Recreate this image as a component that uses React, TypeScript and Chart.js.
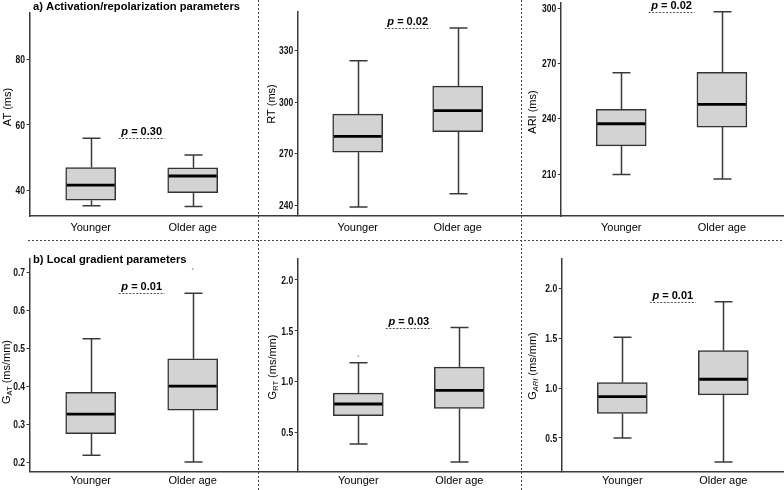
import React, { useEffect, useRef } from 'react';
import { Chart, registerables } from 'chart.js';

Chart.register(...registerables);

// ---------- data ----------
const CATEGORIES = ['Younger', 'Older age'];

// a) AT (ms)
const AT_MIN = [35.3, 35.1];
const AT_Q1 = [37.0, 39.3];
const AT_MEDIAN = [41.6, 44.4];
const AT_Q3 = [47.0, 46.9];
const AT_MAX = [55.9, 50.8];
const AT_TICKS = [40, 60, 80];
const AT_P = '0.30';

// RT (ms)
const RT_MIN = [238.8, 246.6];
const RT_Q1 = [270.8, 282.8];
const RT_MEDIAN = [280.1, 295.1];
const RT_Q3 = [293.0, 309.4];
const RT_MAX = [324.2, 343.3];
const RT_TICKS = [240, 270, 300, 330];
const RT_P = '0.02';

// ARI (ms)
const ARI_MIN = [209.8, 207.3];
const ARI_Q1 = [225.3, 235.5];
const ARI_MEDIAN = [237.3, 247.8];
const ARI_Q3 = [245.1, 265.2];
const ARI_MAX = [265.0, 298.2];
const ARI_TICKS = [210, 240, 270, 300];
const ARI_P = '0.02';

// b) G_AT (ms/mm)
const GAT_MIN = [0.218, 0.2];
const GAT_Q1 = [0.275, 0.337];
const GAT_MEDIAN = [0.326, 0.4];
const GAT_Q3 = [0.384, 0.472];
const GAT_MAX = [0.525, 0.645];
const GAT_OUTLIERS = [[], [0.709]];
const GAT_TICKS = [0.2, 0.3, 0.4, 0.5, 0.6, 0.7];
const GAT_P = '0.01';

// G_RT (ms/mm)
const GRT_MIN = [0.389, 0.212];
const GRT_Q1 = [0.667, 0.738];
const GRT_MEDIAN = [0.782, 0.915];
const GRT_Q3 = [0.889, 1.144];
const GRT_MAX = [1.187, 1.533];
const GRT_OUTLIERS = [[1.25], []];
const GRT_TICKS = [0.5, 1.0, 1.5, 2.0];
const GRT_P = '0.03';

// G_ARI (ms/mm)
const GARI_MIN = [0.5, 0.259];
const GARI_Q1 = [0.746, 0.933];
const GARI_MEDIAN = [0.916, 1.09];
const GARI_Q3 = [1.057, 1.378];
const GARI_MAX = [1.513, 1.868];
const GARI_TICKS = [0.5, 1.0, 1.5, 2.0];
const GARI_P = '0.01';

// ---------- styles ----------
const FONT = "'Liberation Sans', Arial, Helvetica, sans-serif";
const AXIS = '#3a3a3a';

type PanelDef = {
  left: number; top: number; width: number; height: number;
  areaLeft: number; areaTop: number; areaBottom: number; unitPx: number;
  yMin: number; yMax: number; decimals: number;
  mins: number[]; q1: number[]; med: number[]; q3: number[]; maxs: number[];
  outliers: number[][]; ticks: number[]; p: string;
  tMain: string; tSub: string; tRest: string; tX: number; tY: number; tSubItalic?: boolean;
  section?: { text: string; x: number; y: number };
  labelPad: number;
};

const PANELS: PanelDef[] = [
  { left: 0, top: 0, width: 298, height: 240, areaLeft: 29.5, areaTop: 13, areaBottom: 216, unitPx: 102,
    yMin: 32.2, yMax: 94.1, decimals: 0, mins: AT_MIN, q1: AT_Q1, med: AT_MEDIAN, q3: AT_Q3, maxs: AT_MAX,
    outliers: [[], []], ticks: AT_TICKS, p: AT_P, tMain: 'AT (ms)', tSub: '', tRest: '', tX: 7.5, tY: 107,
    section: { text: 'a) Activation/repolarization parameters', x: 33, y: 9.5 }, labelPad: 5.5 },
  { left: 260, top: 0, width: 301, height: 240, areaLeft: 37.7, areaTop: 12, areaBottom: 215.5, unitPx: 100,
    yMin: 233.9, yMax: 352.6, decimals: 0, mins: RT_MIN, q1: RT_Q1, med: RT_MEDIAN, q3: RT_Q3, maxs: RT_MAX,
    outliers: [[], []], ticks: RT_TICKS, p: RT_P, tMain: 'RT (ms)', tSub: '', tRest: '', tX: 11.7, tY: 104, labelPad: 6 },
  { left: 522, top: 0, width: 262, height: 240, areaLeft: 38.8, areaTop: 3, areaBottom: 216, unitPx: 100.7,
    yMin: 187.2, yMax: 302.9, decimals: 0, mins: ARI_MIN, q1: ARI_Q1, med: ARI_MEDIAN, q3: ARI_Q3, maxs: ARI_MAX,
    outliers: [[], []], ticks: ARI_TICKS, p: ARI_P, tMain: 'ARI (ms)', tSub: '', tRest: '', tX: 11.3, tY: 112, labelPad: 5.5 },
  { left: 0, top: 240, width: 298, height: 250, areaLeft: 29.5, areaTop: 18.3, areaBottom: 231.7, unitPx: 102,
    yMin: 0.1745, yMax: 0.737, decimals: 1, mins: GAT_MIN, q1: GAT_Q1, med: GAT_MEDIAN, q3: GAT_Q3, maxs: GAT_MAX,
    outliers: GAT_OUTLIERS, ticks: GAT_TICKS, p: GAT_P, tMain: 'G', tSub: 'AT', tRest: ' (ms/mm)', tX: 7, tY: 132,
    section: { text: 'b) Local gradient parameters', x: 33, y: 22.5 }, labelPad: 3 },
  { left: 260, top: 240, width: 302, height: 250, areaLeft: 37.7, areaTop: 18.3, areaBottom: 231.7, unitPx: 101,
    yMin: 0.117, yMax: 2.213, decimals: 1, mins: GRT_MIN, q1: GRT_Q1, med: GRT_MEDIAN, q3: GRT_Q3, maxs: GRT_MAX,
    outliers: GRT_OUTLIERS, ticks: GRT_TICKS, p: GRT_P, tMain: 'G', tSub: 'RT', tRest: ' (ms/mm)', tX: 13.3, tY: 127, labelPad: 3 },
  { left: 522, top: 240, width: 262, height: 250, areaLeft: 39.7, areaTop: 18.3, areaBottom: 231.7, unitPx: 101,
    yMin: 0.161, yMax: 2.305, decimals: 1, mins: GARI_MIN, q1: GARI_Q1, med: GARI_MEDIAN, q3: GARI_Q3, maxs: GARI_MAX,
    outliers: [[], []], ticks: GARI_TICKS, p: GARI_P, tMain: 'G', tSub: 'ARI', tRest: ' (ms/mm)', tX: 11.3, tY: 126, tSubItalic: true, labelPad: 3 },
];

const boxPlugin = {
  id: 'boxExtras',
  afterDatasetsDraw(chart: any, _args: any, opts: any) {
    const d: PanelDef = opts.def;
    const xs = chart.scales.x;
    const ys = chart.scales.y;
    const ctx = chart.ctx;
    const bars = chart.getDatasetMeta(0).data;
    ctx.save();
    ctx.lineCap = 'butt';
    d.q1.forEach((_, i) => {
      const cx = Math.round(xs.getPixelForValue(i + 1)) + 0.5;
      const half = bars[i].width / 2;
      ctx.strokeStyle = AXIS;
      ctx.lineWidth = 1.5;
      ctx.beginPath();
      ctx.moveTo(cx, ys.getPixelForValue(d.q3[i]));
      ctx.lineTo(cx, ys.getPixelForValue(d.maxs[i]));
      ctx.moveTo(cx, ys.getPixelForValue(d.q1[i]));
      ctx.lineTo(cx, ys.getPixelForValue(d.mins[i]));
      ctx.moveTo(cx - 9, ys.getPixelForValue(d.maxs[i]));
      ctx.lineTo(cx + 9, ys.getPixelForValue(d.maxs[i]));
      ctx.moveTo(cx - 9, ys.getPixelForValue(d.mins[i]));
      ctx.lineTo(cx + 9, ys.getPixelForValue(d.mins[i]));
      ctx.stroke();
      ctx.strokeStyle = '#000';
      ctx.lineWidth = 2.8;
      ctx.beginPath();
      const my = ys.getPixelForValue(d.med[i]);
      ctx.moveTo(bars[i].x - half + 1, my);
      ctx.lineTo(bars[i].x + half - 1, my);
      ctx.stroke();
    });
    ctx.restore();
  },
  afterDraw(chart: any, _args: any, opts: any) {
    const d: PanelDef = opts.def;
    const xs = chart.scales.x;
    const ys = chart.scales.y;
    const ctx = chart.ctx;
    ctx.save();

    // y tick labels (condensed look)
    ctx.fillStyle = '#111';
    ctx.textAlign = 'right';
    ctx.textBaseline = 'middle';
    ctx.font = `bold 11.5px ${FONT}`;
    d.ticks.forEach((v) => {
      const py = ys.getPixelForValue(v);
      ctx.save();
      ctx.translate(chart.chartArea.left - 4.5, py + 0.5);
      ctx.scale(0.74, 1);
      ctx.fillText(v.toFixed(d.decimals), 0, 0);
      ctx.restore();
    });

    // p-value bracket
    const top = Math.max(...d.maxs);
    const ly = Math.round(ys.getPixelForValue(top)) + 0.5;
    const mid = xs.getPixelForValue(1.5);
    ctx.strokeStyle = '#555';
    ctx.lineWidth = 1;
    ctx.setLineDash([2, 1.5]);
    ctx.beginPath();
    ctx.moveTo(mid - 23, ly);
    ctx.lineTo(mid + 23, ly);
    ctx.stroke();
    ctx.setLineDash([]);
    ctx.fillStyle = '#000';
    ctx.textBaseline = 'alphabetic';
    ctx.textAlign = 'left';
    const f1 = `italic bold 11px ${FONT}`;
    const f2 = `bold 11px ${FONT}`;
    ctx.font = f1;
    const w1 = ctx.measureText('p').width;
    const rest = ` = ${d.p}`;
    ctx.font = f2;
    const w2 = ctx.measureText(rest).width;
    const tx = mid - (w1 + w2) / 2;
    ctx.font = f1;
    ctx.fillText('p', tx, ly - 3.5);
    ctx.font = f2;
    ctx.fillText(rest, tx + w1, ly - 3.5);

    // y-axis title
    ctx.save();
    ctx.translate(d.tX, d.tY);
    ctx.rotate(-Math.PI / 2);
    ctx.textBaseline = 'middle';
    const fMain = `11px ${FONT}`;
    const fSub = `${d.tSubItalic ? 'italic ' : ''}7.5px ${FONT}`;
    ctx.font = fMain;
    const a = ctx.measureText(d.tMain).width;
    const c = ctx.measureText(d.tRest).width;
    ctx.font = fSub;
    const b = d.tSub ? ctx.measureText(d.tSub).width : 0;
    const x0 = -(a + b + c) / 2;
    ctx.fillStyle = '#000';
    ctx.font = fMain;
    ctx.fillText(d.tMain, x0, 0);
    if (d.tSub) {
      ctx.font = fSub;
      ctx.fillText(d.tSub, x0 + a, 3);
    }
    ctx.font = fMain;
    ctx.fillText(d.tRest, x0 + a + b, 0);
    ctx.restore();

    // section title
    if (d.section) {
      ctx.font = `bold 11.2px ${FONT}`;
      ctx.fillStyle = '#000';
      ctx.textAlign = 'left';
      ctx.textBaseline = 'alphabetic';
      ctx.fillText(d.section.text, d.section.x, d.section.y);
    }
    ctx.restore();
  },
};

function BoxPanel({ def }: { def: PanelDef }) {
  const ref = useRef<HTMLCanvasElement>(null);
  useEffect(() => {
    const canvas = ref.current!;
    const xMax = 0.4 + (def.width - def.areaLeft) / def.unitPx;
    const outlierPts: { x: number; y: number }[] = [];
    def.outliers.forEach((arr, i) => arr.forEach((v) => outlierPts.push({ x: i + 1, y: v })));
    const chart = new Chart(canvas, {
      type: 'bar',
      data: {
        datasets: [
          {
            type: 'bar',
            data: def.q1.map((q, i) => ({ x: i + 1, y: [q, def.q3[i]] })) as any,
            backgroundColor: '#d3d3d3',
            borderColor: '#333333',
            borderWidth: 1.5,
            borderSkipped: false,
            barThickness: 50,
          } as any,
          {
            type: 'scatter',
            data: outlierPts as any,
            pointRadius: 1,
            backgroundColor: '#b0b0b0',
            borderWidth: 0,
          } as any,
        ],
      },
      options: {
        responsive: false,
        animation: false,
        events: [],
        layout: { autoPadding: false, padding: { top: def.areaTop, left: 0, right: 0, bottom: 0 } } as any,
        plugins: {
          legend: { display: false },
          tooltip: { enabled: false },
          boxExtras: { def },
        } as any,
        scales: {
          x: {
            type: 'linear',
            offset: false,
            min: 0.4,
            max: xMax,
            grid: { display: false, drawTicks: false, offset: false },
            border: { display: true, color: AXIS, width: 1.5 },
            ticks: {
              font: { family: FONT, size: 11 },
              color: '#000',
              padding: def.labelPad,
              autoSkip: false,
              maxRotation: 0,
              callback: (v: any) => CATEGORIES[Math.round(Number(v)) - 1] ?? '',
            },
            afterBuildTicks: (s: any) => {
              s.ticks = CATEGORIES.map((_, i) => ({ value: i + 1 }));
            },
            afterFit: (s: any) => {
              s.height = def.height - def.areaBottom;
              s.paddingLeft = 0;
              s.paddingRight = 0;
            },
          } as any,
          y: {
            type: 'linear',
            min: def.yMin,
            max: def.yMax,
            grid: { display: true, drawOnChartArea: false, drawTicks: true, tickLength: 3, color: AXIS },
            border: { display: true, color: AXIS, width: 1.5 },
            ticks: { display: false },
            afterBuildTicks: (s: any) => {
              s.ticks = def.ticks.map((v) => ({ value: v }));
            },
            afterFit: (s: any) => {
              s.width = def.areaLeft;
              s.paddingTop = 0;
              s.paddingBottom = 0;
            },
          } as any,
        },
      },
      plugins: [boxPlugin as any],
    });
    return () => chart.destroy();
  }, []);
  return (
    <canvas
      ref={ref}
      width={def.width}
      height={def.height}
      style={{ position: 'absolute', left: def.left, top: def.top }}
    />
  );
}

const dashV = 'repeating-linear-gradient(to bottom, #444 0px, #444 2px, transparent 2px, transparent 4px)';
const dashH = 'repeating-linear-gradient(to right, #444 0px, #444 2px, transparent 2px, transparent 4px)';

export default function App() {
  return (
    <div style={{ position: 'absolute', left: 0, top: 0, width: 784, height: 490, background: '#fff', overflow: 'hidden' }}>
      {PANELS.map((p, i) => (
        <BoxPanel key={i} def={p} />
      ))}
      <div style={{ position: 'absolute', left: 258, top: 0, width: 1, height: 490, backgroundImage: dashV }} />
      <div style={{ position: 'absolute', left: 521, top: 0, width: 1, height: 490, backgroundImage: dashV }} />
      <div style={{ position: 'absolute', left: 28, top: 240, width: 756, height: 1, backgroundImage: dashH }} />
    </div>
  );
}
